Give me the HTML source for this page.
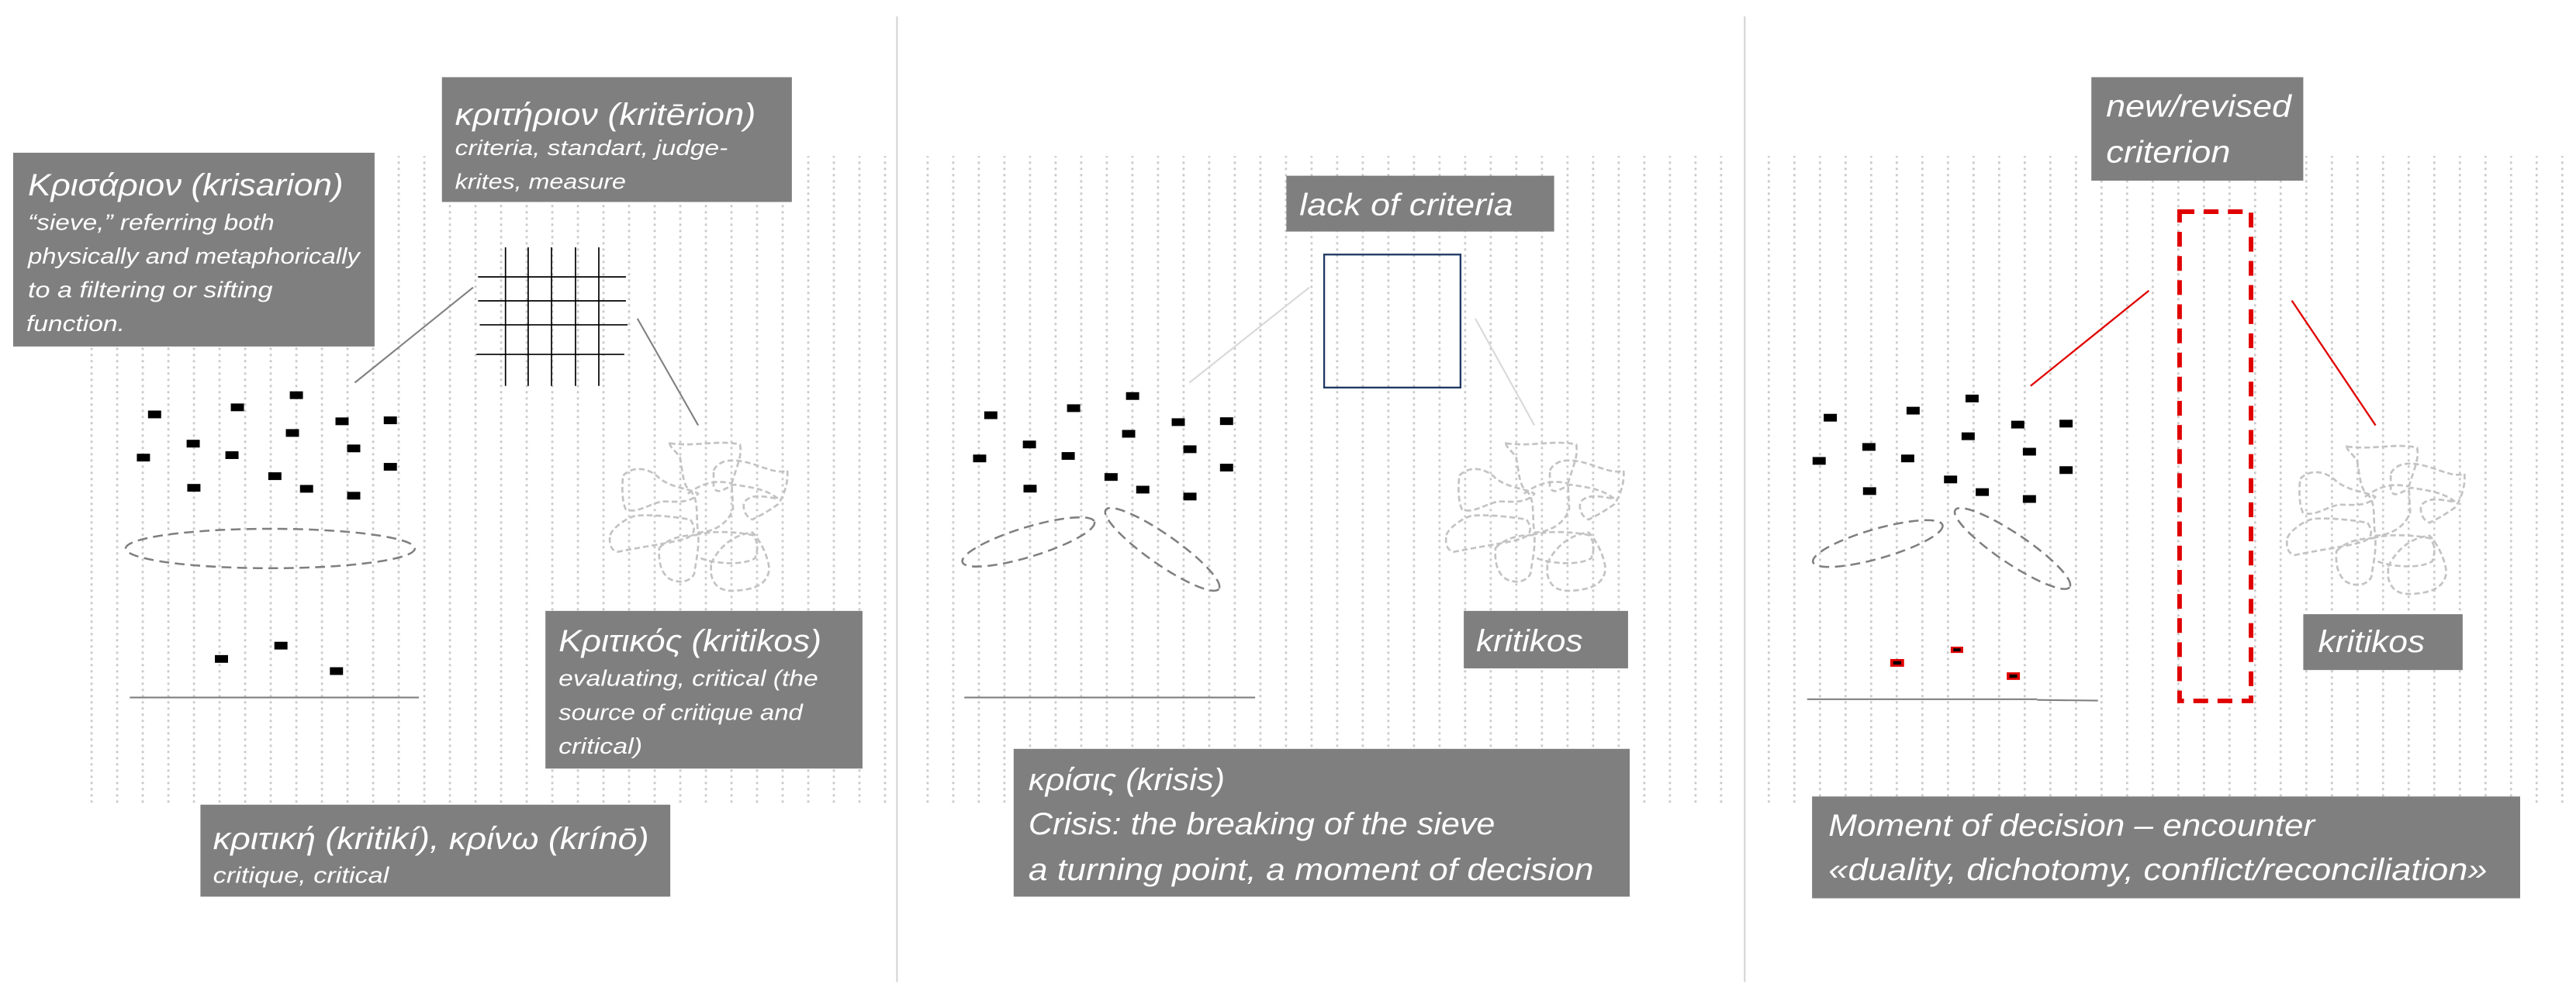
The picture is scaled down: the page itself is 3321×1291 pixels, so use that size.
<!DOCTYPE html>
<html><head><meta charset="utf-8"><style>
html,body{margin:0;padding:0;background:#fff;}
svg{display:block;}
text{font-family:"Liberation Sans",sans-serif;font-style:italic;fill:#fff;}
</style></head><body>
<svg width="3321" height="1291" viewBox="0 0 1568 609.54" xmlns="http://www.w3.org/2000/svg">
<defs>
<pattern id="d1" x="55.1" y="143.7" width="15.58" height="3.777" patternUnits="userSpaceOnUse"><rect x="0" y="0" width="1.3" height="1.4" fill="#cacaca"/></pattern>
<pattern id="d2" x="564" y="143.7" width="15.58" height="3.777" patternUnits="userSpaceOnUse"><rect x="0" y="0" width="1.3" height="1.4" fill="#cacaca"/></pattern>
<pattern id="d3" x="1076" y="143.7" width="15.58" height="3.777" patternUnits="userSpaceOnUse"><rect x="0" y="0" width="1.3" height="1.4" fill="#cacaca"/></pattern>
<g id="scr" fill="none" stroke="#c3c3c3" stroke-width="8" stroke-dasharray="22 12">
<path d="M280,95 C380,110 470,80 552,100 C560,140 545,170 520,250 L525,350 C500,420 430,440 390,440 C380,380 395,310 360,280 C330,260 330,200 320,150 C300,120 280,110 280,95 Z"/>
<path d="M100,220 C140,180 200,190 240,230 C290,270 360,270 390,290 C360,330 300,320 250,320 C200,330 150,370 110,350 C95,320 95,260 100,220 Z"/>
<path d="M50,450 C60,420 120,380 150,375 C220,370 300,380 360,390 C380,420 380,445 350,460 C300,480 200,490 80,515 C50,510 45,480 50,450 Z"/>
<path d="M450,200 C470,160 520,150 600,175 C650,190 700,215 735,200 C740,250 720,300 700,330 C660,360 620,380 600,390 C570,380 560,340 570,320 C600,290 640,300 700,310 C650,270 590,265 530,255 C490,270 460,300 450,260 Z"/>
<path d="M240,500 C280,460 330,450 390,450 C395,500 380,560 375,600 C360,630 320,640 280,620 C250,600 235,560 240,500 Z"/>
<path d="M440,560 C470,500 520,450 600,440 C630,470 660,530 665,580 C660,640 610,660 540,665 C480,670 450,650 440,600 Z"/>
<path d="M400,540 C450,560 560,570 610,540 C625,500 620,470 600,450 C550,440 450,430 380,450"/>
<path d="M350,290 C380,270 430,230 520,250"/>
</g>
<g id="dots">
<rect x="90.1" y="250" width="8" height="4.7"/><rect x="140.5" y="245.7" width="8" height="4.7"/><rect x="176.4" y="238.3" width="8" height="4.7"/><rect x="204.2" y="254.2" width="8" height="4.7"/><rect x="233.6" y="253.6" width="8" height="4.7"/><rect x="113.6" y="267.8" width="8" height="4.7"/><rect x="174" y="261.3" width="8" height="4.7"/><rect x="83.3" y="276.3" width="8" height="4.7"/><rect x="137.2" y="274.8" width="8" height="4.7"/><rect x="211.3" y="270.7" width="8" height="4.7"/><rect x="233.6" y="281.9" width="8" height="4.7"/><rect x="163.3" y="287.6" width="8" height="4.7"/><rect x="114" y="294.7" width="8" height="4.7"/><rect x="182.6" y="295.3" width="8" height="4.7"/><rect x="211.3" y="299.5" width="8" height="4.7"/>
</g>
</defs>

<!-- dotted backgrounds -->
<rect x="54" y="95" width="488" height="396" fill="url(#d1)"/>
<rect x="563" y="95" width="488" height="396" fill="url(#d2)"/>
<rect x="1075" y="95" width="488" height="396" fill="url(#d3)"/>

<!-- dividers -->
<line x1="546" y1="10" x2="546" y2="598" stroke="#d4d4d4" stroke-width="1"/>
<line x1="1062" y1="10" x2="1062" y2="598" stroke="#d4d4d4" stroke-width="1"/>

<!-- ===== Panel 1 ===== -->
<use href="#dots"/>
<g transform="translate(0,-0.5)"><rect x="130.8" y="399.4" width="8" height="4.7"/><rect x="167" y="391.3" width="8" height="4.7"/><rect x="200.8" y="406.8" width="8" height="4.7"/></g>
<ellipse cx="164.5" cy="334" rx="88" ry="12" fill="none" stroke="#7f7f7f" stroke-width="1.2" stroke-dasharray="6 3.5"/>
<line x1="79" y1="424.7" x2="255" y2="424.7" stroke="#808080" stroke-width="1"/>
<g stroke="#000" stroke-width="0.8">
<line x1="307.7" y1="150.6" x2="307.7" y2="235"/><line x1="321.5" y1="150.6" x2="321.5" y2="235"/><line x1="335.7" y1="150.6" x2="335.7" y2="235"/><line x1="350.3" y1="150.6" x2="350.3" y2="235"/><line x1="364.5" y1="150.6" x2="364.5" y2="235"/>
<line x1="291" y1="168.6" x2="381" y2="168.6"/><line x1="291" y1="183.2" x2="381" y2="183.2"/><line x1="292" y1="197.8" x2="382" y2="197.8"/><line x1="290" y1="215.8" x2="380" y2="215.8"/>
</g>
<line x1="216" y1="233" x2="288" y2="175" stroke="#808080" stroke-width="1"/>
<line x1="388" y1="194" x2="425" y2="259" stroke="#808080" stroke-width="1"/>
<use href="#scr" transform="translate(363.55,254.96) scale(0.1574)"/>

<rect x="8" y="93" width="220" height="118" fill="#7f7f7f"/>
<text x="17" y="119" font-size="19" textLength="192" lengthAdjust="spacingAndGlyphs">Κρισάριον (krisarion)</text>
<text x="17" y="140" font-size="13.5" textLength="150" lengthAdjust="spacingAndGlyphs">“sieve,” referring both</text>
<text x="17" y="160.5" font-size="13.5" textLength="202" lengthAdjust="spacingAndGlyphs">physically and metaphorically</text>
<text x="17" y="181" font-size="13.5" textLength="149" lengthAdjust="spacingAndGlyphs">to a filtering or sifting</text>
<text x="16" y="201.5" font-size="13.5" textLength="60" lengthAdjust="spacingAndGlyphs">function.</text>

<rect x="269" y="47" width="213" height="76" fill="#7f7f7f"/>
<text x="277" y="76" font-size="19" textLength="183" lengthAdjust="spacingAndGlyphs">κριτήριον (kritērion)</text>
<text x="277" y="94.5" font-size="13" textLength="166" lengthAdjust="spacingAndGlyphs">criteria, standart, judge-</text>
<text x="277" y="115" font-size="13" textLength="104" lengthAdjust="spacingAndGlyphs">krites, measure</text>

<rect x="332" y="372" width="193" height="96" fill="#7f7f7f"/>
<text x="340" y="396.5" font-size="19" textLength="160" lengthAdjust="spacingAndGlyphs">Κριτικός (kritikos)</text>
<text x="340" y="417.5" font-size="13.5" textLength="158" lengthAdjust="spacingAndGlyphs">evaluating, critical (the</text>
<text x="340" y="438.5" font-size="13.5" textLength="148.6" lengthAdjust="spacingAndGlyphs">source of critique and</text>
<text x="340" y="459" font-size="13.5" textLength="51" lengthAdjust="spacingAndGlyphs">critical)</text>

<rect x="122" y="490" width="286" height="56" fill="#7f7f7f"/>
<text x="129.7" y="517" font-size="19" textLength="265.3" lengthAdjust="spacingAndGlyphs">κριτική (kritikí), κρίνω (krínō)</text>
<text x="129.7" y="537.5" font-size="13.5" textLength="107" lengthAdjust="spacingAndGlyphs">critique, critical</text>

<!-- ===== Panel 2 ===== -->
<use href="#dots" transform="translate(509,0.5)"/>
<ellipse cx="626" cy="330" rx="42" ry="9" transform="rotate(-17 626 330)" fill="none" stroke="#7f7f7f" stroke-width="1.2" stroke-dasharray="6 3.5"/>
<ellipse cx="707.5" cy="334.5" rx="42" ry="9" transform="rotate(35 707.5 334.5)" fill="none" stroke="#7f7f7f" stroke-width="1.2" stroke-dasharray="6 3.5"/>
<line x1="587" y1="424.7" x2="764" y2="424.7" stroke="#808080" stroke-width="1"/>
<line x1="724" y1="233" x2="797" y2="175" stroke="#d9d9d9" stroke-width="1"/>
<line x1="898" y1="194" x2="934" y2="259" stroke="#d9d9d9" stroke-width="1"/>
<rect x="806" y="155" width="83" height="81" fill="none" stroke="#1f3864" stroke-width="1.1"/>
<use href="#scr" transform="translate(872.55,254.96) scale(0.1574)"/>

<rect x="783" y="107" width="163" height="34" fill="#7f7f7f"/>
<text x="791" y="131" font-size="19" textLength="130" lengthAdjust="spacingAndGlyphs">lack of criteria</text>

<rect x="891" y="372" width="100" height="35" fill="#7f7f7f"/>
<text x="898.5" y="396.5" font-size="19" textLength="65" lengthAdjust="spacingAndGlyphs">kritikos</text>

<rect x="617" y="456" width="375" height="90" fill="#7f7f7f"/>
<text x="626" y="481" font-size="19" textLength="119.6" lengthAdjust="spacingAndGlyphs">κρίσις (krisis)</text>
<text x="626" y="508" font-size="19" textLength="284" lengthAdjust="spacingAndGlyphs">Crisis: the breaking of the sieve</text>
<text x="626" y="536" font-size="19" textLength="344" lengthAdjust="spacingAndGlyphs">a turning point, a moment of decision</text>

<!-- ===== Panel 3 ===== -->
<use href="#dots" transform="translate(1020,2)"/>
<ellipse cx="1143" cy="331" rx="41" ry="9" transform="rotate(-16 1143 331)" fill="none" stroke="#7f7f7f" stroke-width="1.2" stroke-dasharray="6 3.5"/>
<ellipse cx="1225" cy="334" rx="42" ry="9" transform="rotate(34 1225 334)" fill="none" stroke="#7f7f7f" stroke-width="1.2" stroke-dasharray="6 3.5"/>
<rect x="1150.6" y="401.3" width="8.4" height="4.7" fill="#e00000"/><rect x="1152.4" y="402.6" width="4.8" height="2.1" fill="#000"/>
<rect x="1187.4" y="393.8" width="7.6" height="3.8" fill="#e00000"/><rect x="1189" y="394.8" width="4.4" height="1.8" fill="#000"/>
<rect x="1221.5" y="409.4" width="8" height="4.6" fill="#e00000"/><rect x="1223.2" y="410.7" width="4.6" height="2" fill="#000"/>
<line x1="1100" y1="425.8" x2="1240" y2="425.8" stroke="#808080" stroke-width="1"/>
<line x1="1240" y1="426.2" x2="1277" y2="426.6" stroke="#808080" stroke-width="1"/>
<line x1="1236" y1="235" x2="1308" y2="177" stroke="#e00000" stroke-width="1.1"/>
<line x1="1395" y1="183" x2="1446" y2="259" stroke="#e00000" stroke-width="1.1"/>
<rect x="1326.7" y="128.9" width="43.5" height="297.9" fill="none" stroke="#e00000" stroke-width="2.8" stroke-dasharray="9 5.7"/>
<use href="#scr" transform="translate(1384.4,256.9) scale(0.1574)"/>

<rect x="1273" y="47" width="129" height="63" fill="#7f7f7f"/>
<text x="1282" y="71" font-size="19" textLength="112.7" lengthAdjust="spacingAndGlyphs">new/revised</text>
<text x="1282" y="99" font-size="19" textLength="75.6" lengthAdjust="spacingAndGlyphs">criterion</text>

<rect x="1402" y="374" width="97" height="34" fill="#7f7f7f"/>
<text x="1411" y="397" font-size="19" textLength="65" lengthAdjust="spacingAndGlyphs">kritikos</text>

<rect x="1103" y="485" width="431" height="62" fill="#7f7f7f"/>
<text x="1113" y="509" font-size="19" textLength="296" lengthAdjust="spacingAndGlyphs">Moment of decision – encounter</text>
<text x="1113" y="536" font-size="19" textLength="401" lengthAdjust="spacingAndGlyphs">«duality, dichotomy, conflict/reconciliation»</text>
</svg>
</body></html>
